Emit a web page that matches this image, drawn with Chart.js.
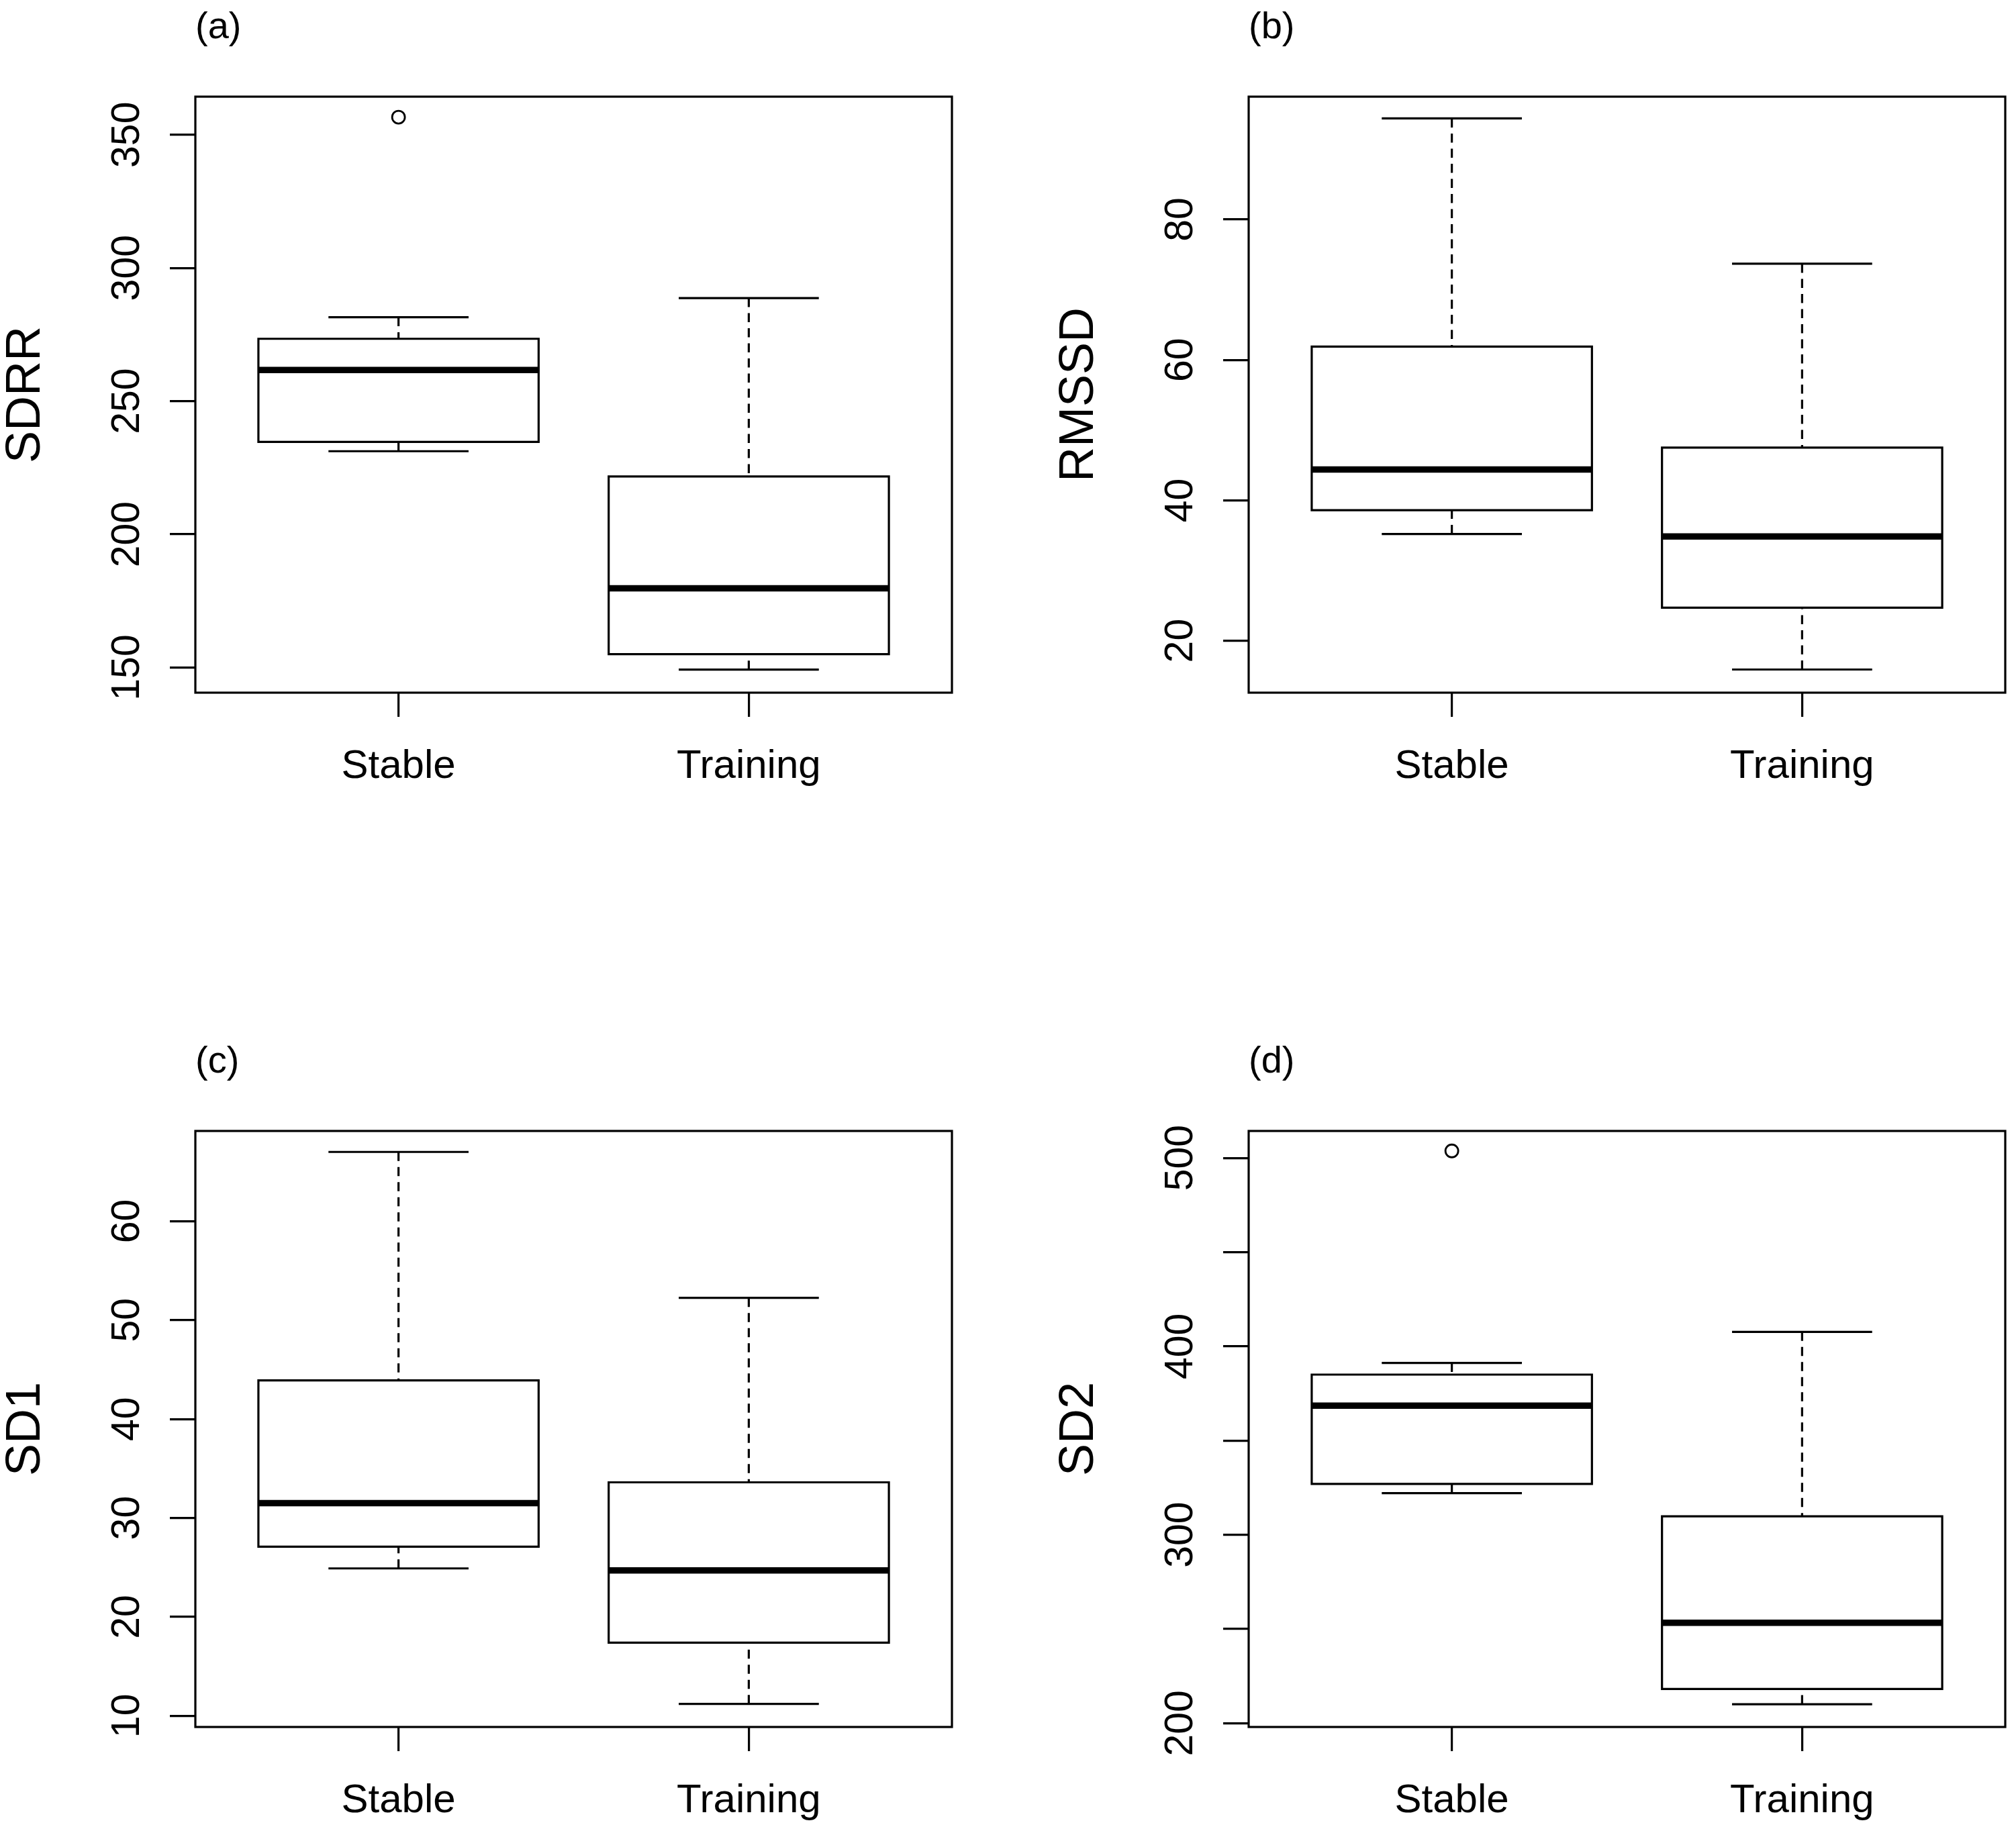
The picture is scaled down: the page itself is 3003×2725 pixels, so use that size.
<!DOCTYPE html>
<html>
<head>
<meta charset="utf-8">
<script src="https://cdn.jsdelivr.net/npm/chart.js@4.4.1/dist/chart.umd.min.js"></script>
<style>
  html, body { margin: 0; padding: 0; background: #fff; width: 3003px; height: 2725px; overflow: hidden; }
  canvas { position: absolute; }
</style>
</head>
<body>
<canvas id="pa" width="1434" height="1184" style="left:0px;top:0px;width:1434px;height:1184px"></canvas>
<canvas id="pb" width="1434" height="1184" style="left:1569px;top:0px;width:1434px;height:1184px"></canvas>
<canvas id="pc" width="1434" height="1184" style="left:0px;top:1541px;width:1434px;height:1184px"></canvas>
<canvas id="pd" width="1434" height="1184" style="left:1569px;top:1541px;width:1434px;height:1184px"></canvas>
<script>
// ---------- data ----------
const categories = ['Stable', 'Training'];

// (a) SDRR
const sdrrLower   = [231.2, 149.2];
const sdrrQ1      = [234.7, 155.0];
const sdrrMedian  = [261.7, 179.7];
const sdrrQ3      = [273.4, 221.7];
const sdrrUpper   = [281.5, 288.7];
const sdrrOutliers = [[356.6], []];
const sdrrTicks   = [150, 200, 250, 300, 350];
const sdrrTickLabels = ['150', '200', '250', '300', '350'];
const sdrrLimits  = [140.55, 364.3];

// (b) RMSSD
const rmssdLower  = [35.2, 15.9];
const rmssdQ1     = [38.6, 24.7];
const rmssdMedian = [44.4, 34.85];
const rmssdQ3     = [61.9, 47.5];
const rmssdUpper  = [94.4, 73.7];
const rmssdOutliers = [[], []];
const rmssdTicks  = [20, 40, 60, 80];
const rmssdTickLabels = ['20', '40', '60', '80'];
const rmssdLimits = [12.6, 97.5];

// (c) SD1
const sd1Lower    = [24.9, 11.2];
const sd1Q1       = [27.1, 17.4];
const sd1Median   = [31.5, 24.7];
const sd1Q3       = [43.9, 33.6];
const sd1Upper    = [67.0, 52.25];
const sd1Outliers = [[], []];
const sd1Ticks    = [10, 20, 30, 40, 50, 60];
const sd1TickLabels = ['10', '20', '30', '40', '50', '60'];
const sd1Limits   = [8.87, 69.12];

// (d) SD2
const sd2Lower    = [322.1, 210.1];
const sd2Q1       = [327.0, 218.2];
const sd2Median   = [368.5, 253.3];
const sd2Q3       = [385.0, 309.8];
const sd2Upper    = [391.2, 407.7];
const sd2Outliers = [[503.7], []];
const sd2Ticks    = [200, 250, 300, 350, 400, 450, 500];
const sd2TickLabels = ['200', '', '300', '', '400', '', '500'];
const sd2Limits   = [198.0, 514.3];

const xLimits = [0.42, 2.58];

// ---------- style ----------
const FONT = '"Liberation Sans", Arial, sans-serif';
const LW = 3.2;
const BOX_HALF = 0.4;
const STAPLE_HALF = 0.2;

function buildDatasets(lo, q1, med, q3, hi, outs) {
  const whisk = [], staple = [], box = [], medLine = [], outPts = [];
  categories.forEach((c, i) => {
    const x = i + 1;
    whisk.push({x: x, y: hi[i]}, {x: x, y: q3[i]}, {x: x, y: null},
               {x: x, y: lo[i]}, {x: x, y: q1[i]}, {x: x, y: null});
    staple.push({x: x - STAPLE_HALF, y: hi[i]}, {x: x + STAPLE_HALF, y: hi[i]}, {x: x, y: null},
                {x: x - STAPLE_HALF, y: lo[i]}, {x: x + STAPLE_HALF, y: lo[i]}, {x: x, y: null});
    box.push({x: x - BOX_HALF, y: q1[i]}, {x: x + BOX_HALF, y: q1[i]},
             {x: x + BOX_HALF, y: q3[i]}, {x: x - BOX_HALF, y: q3[i]},
             {x: x - BOX_HALF, y: q1[i]}, {x: x, y: null});
    medLine.push({x: x - BOX_HALF, y: med[i]}, {x: x + BOX_HALF, y: med[i]}, {x: x, y: null});
    outs[i].forEach(v => outPts.push({x: x, y: v}));
  });
  const lineBase = {showLine: true, pointRadius: 0, pointHoverRadius: 0, borderColor: '#000',
                    backgroundColor: 'rgba(0,0,0,0)', fill: false, spanGaps: false, tension: 0};
  return [
    {label: 'outliers', data: outPts, showLine: false, pointRadius: 9.5, pointStyle: 'circle',
     pointBorderWidth: 2.8, pointBorderColor: '#000', pointBackgroundColor: 'rgba(255,255,255,0)'},
    Object.assign({label: 'median', data: medLine, borderWidth: 9.5, borderCapStyle: 'butt'}, lineBase),
    Object.assign({label: 'box', data: box, borderWidth: LW, borderCapStyle: 'square', borderJoinStyle: 'miter'}, lineBase),
    Object.assign({label: 'staple', data: staple, borderWidth: LW, borderCapStyle: 'butt'}, lineBase),
    Object.assign({label: 'whisker', data: whisk, borderWidth: LW, borderCapStyle: 'butt', borderDash: [13.5, 9]}, lineBase)
  ];
}

const rStylePlugin = {
  id: 'rStyle',
  afterDraw(chart, args, opts) {
    const {ctx, chartArea: a} = chart;
    const ys = chart.scales.y;
    ctx.save();
    ctx.strokeStyle = '#000';
    ctx.lineWidth = LW;
    ctx.strokeRect(a.left, a.top, a.right - a.left, a.bottom - a.top);
    ctx.fillStyle = '#000';
    ctx.font = '59px ' + FONT;
    ctx.textAlign = 'center';
    ctx.textBaseline = 'alphabetic';
    ys.ticks.forEach((t, i) => {
      const txt = opts.labels[i];
      if (!txt) return;
      const y = ys.getPixelForValue(t.value);
      ctx.save();
      ctx.translate(a.left - 84, y);
      ctx.rotate(-Math.PI / 2);
      ctx.fillText(txt, 0, 0);
      ctx.restore();
    });
    ctx.restore();
  }
};

function makeChart(id, panelLabel, yTitle, lo, q1, med, q3, hi, outs, ticks, tickLabels, limits) {
  return new Chart(document.getElementById(id), {
    type: 'scatter',
    data: {datasets: buildDatasets(lo, q1, med, q3, hi, outs)},
    plugins: [rStylePlugin],
    options: {
      responsive: false,
      animation: false,
      devicePixelRatio: 1,
      layout: {padding: {left: 0, right: 16, top: 0, bottom: 0}},
      plugins: {
        legend: {display: false},
        tooltip: {enabled: false},
        title: {display: true, text: panelLabel, align: 'start', fullSize: false, position: 'top',
                color: '#000', font: {family: FONT, size: 56, weight: 'normal', lineHeight: 1},
                padding: {top: 13.5, bottom: 74.5}},
        rStyle: {labels: tickLabels}
      },
      scales: {
        x: {
          type: 'linear', min: xLimits[0], max: xLimits[1],
          afterBuildTicks: s => { s.ticks = categories.map((c, i) => ({value: i + 1})); },
          afterFit: s => { s.height = 152; },
          ticks: {callback: v => categories[Math.round(v) - 1] || '', color: '#000', padding: 44,
                  maxRotation: 0, minRotation: 0, autoSkip: false,
                  font: {family: FONT, size: 60, lineHeight: 1}},
          grid: {drawOnChartArea: false, drawTicks: true, tickLength: 36, color: '#000', lineWidth: LW},
          border: {display: false}
        },
        y: {
          type: 'linear', min: limits[0], max: limits[1],
          afterBuildTicks: s => { s.ticks = ticks.map(v => ({value: v})); },
          afterFit: s => { s.width = 291; },
          ticks: {display: false},
          grid: {drawOnChartArea: false, drawTicks: true, tickLength: 38, color: '#000', lineWidth: LW},
          border: {display: false},
          title: {display: true, text: yTitle, color: '#000',
                  font: {family: FONT, size: 72, lineHeight: 1}, padding: {top: 3, bottom: 0}}
        }
      }
    }
  });
}

makeChart('pa', '(a)', 'SDRR', sdrrLower, sdrrQ1, sdrrMedian, sdrrQ3, sdrrUpper, sdrrOutliers, sdrrTicks, sdrrTickLabels, sdrrLimits);
makeChart('pb', '(b)', 'RMSSD', rmssdLower, rmssdQ1, rmssdMedian, rmssdQ3, rmssdUpper, rmssdOutliers, rmssdTicks, rmssdTickLabels, rmssdLimits);
makeChart('pc', '(c)', 'SD1', sd1Lower, sd1Q1, sd1Median, sd1Q3, sd1Upper, sd1Outliers, sd1Ticks, sd1TickLabels, sd1Limits);
makeChart('pd', '(d)', 'SD2', sd2Lower, sd2Q1, sd2Median, sd2Q3, sd2Upper, sd2Outliers, sd2Ticks, sd2TickLabels, sd2Limits);
</script>
</body>
</html>
